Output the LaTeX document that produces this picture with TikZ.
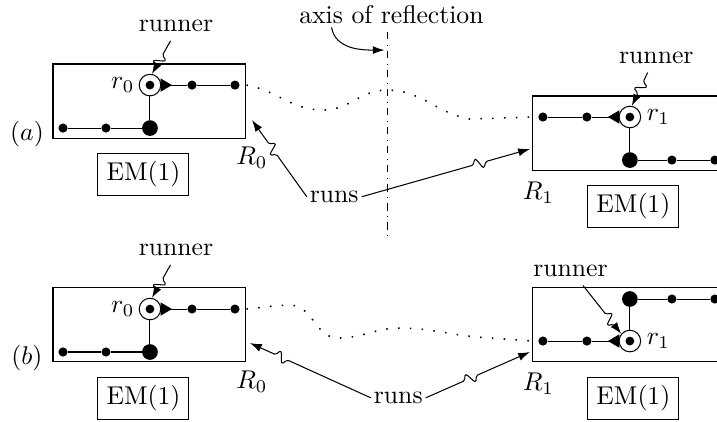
\documentclass[tikz,border=0pt]{standalone}
\usepackage{amsmath,amssymb}
\usepackage{tikz}
\usetikzlibrary{arrows.meta}
\usetikzlibrary{calc}
\tikzset{
	>={Latex[length=1.6mm, width=1.1mm]},
	region/.style={draw, minimum width=2.64cm, minimum height=1.013cm, inner sep=0pt},
	emtag/.style={draw, inner sep=3.33pt},
	vtx/.style={circle, fill=black, inner sep=0pt, minimum size=1.25mm},
	hubvtx/.style={circle, fill=black, inner sep=0pt, minimum size=2.15mm},
	runvtx/.style={circle, draw, fill=white, inner sep=0pt, minimum size=2.95mm,
		path picture={\fill[black] (path picture bounding box.center) circle (0.6mm);}},
	trail/.style={loosely dotted, line width=0.6pt},
	mirrorline/.style={dash dot},
	% straight connector with a small s-shaped kink at fraction #1
	squig/.style={to path={
			-- ($(\tikztostart)!#1!(\tikztotarget)!-3pt!(\tikztotarget)$)
			.. controls ($(\tikztostart)!#1!(\tikztotarget)!-1.5pt!(\tikztotarget)$)
			and ($(\tikztostart)!#1!(\tikztotarget)!-1.8pt!(\tikztotarget)!4.5pt!90:(\tikztotarget)$)
			.. ($(\tikztostart)!#1!(\tikztotarget)$)
			.. controls ($(\tikztostart)!#1!(\tikztotarget)!1.8pt!(\tikztotarget)!4.5pt!-90:(\tikztotarget)$)
			and ($(\tikztostart)!#1!(\tikztotarget)!1.5pt!(\tikztotarget)$)
			.. ($(\tikztostart)!#1!(\tikztotarget)!3pt!(\tikztotarget)$)
			-- (\tikztotarget) \tikztonodes}},
}

\begin{document}
\begin{tikzpicture}
	\useasboundingbox (0,0) rectangle (9.81,5.76);
	\clip (0,0) rectangle (9.81,5.76);
	
	% left halves: R_0 is the same in (a) and (b)
	\foreach \p/\dy in {a/0, b/-3.064}{
		\begin{scope}[yshift=\dy cm]
			\node[region] (R0\p) at (2.045,4.378) {};
			\node[runvtx, label={[inner sep=1.5pt]left:$r_0$}] (r0\p) at (2.052,4.596) {};
			\node[vtx] (p1\p) at (2.627,4.596) {};
			\node[vtx] (p2\p) at (3.215,4.596) {};
			\node[hubvtx] (h0\p) at (2.052,4.008) {};
			\node[vtx] (q1\p) at (1.450,4.008) {};
			\node[vtx] (q2\p) at (0.862,4.008) {};
			\draw (r0\p) -- (p1\p) -- (p2\p);
			\draw (r0\p) -- (h0\p) -- (q1\p) -- (q2\p);
			\fill (r0\p.east) ++(-0.01,0.092) -- ++(0.156,-0.092) -- ++(-0.156,-0.092) -- cycle;
			
			\node (tag\p) at (0.369,3.926) {$(\p)$};
			\node[emtag] (em0\p) at (1.963,3.372) {EM(1)};
			\node (lR0\p) at (3.447,3.598) {$R_0$};
			\node (run0\p) at (2.408,5.406) {runner};
			\draw[->] (run0\p.250) to[squig=0.6] (r0\p.80);
		\end{scope}
	}
	
	% (a) right half
	\node[region] (R1a) at (8.611,3.94) {};
	\node[runvtx, label={[inner sep=2pt]right:$r_1$}] (r1a) at (8.618,4.159) {};
	\node[vtx] (s1a) at (8.030,4.159) {};
	\node[vtx] (s2a) at (7.428,4.159) {};
	\node[hubvtx] (h1a) at (8.618,3.570) {};
	\node[vtx] (t1a) at (9.193,3.570) {};
	\node[vtx] (t2a) at (9.781,3.570) {};
	\draw (r1a) -- (s1a) -- (s2a);
	\draw (r1a) -- (h1a) -- (t1a) -- (t2a);
	\fill (r1a.west) ++(0.01,0.092) -- ++(-0.156,-0.092) -- ++(0.156,-0.092) -- cycle;
	\node[emtag] (em1a) at (8.666,2.934) {EM(1)};
	\node (lR1a) at (7.367,3.126) {$R_1$};
	\node (run1a) at (8.98,4.973) {runner};
	\draw[->] (run1a.240) to[squig=0.45] (r1a.80);
	
	% (b) right half, flipped
	\node[region] (R1b) at (8.611,1.314) {};
	\node[runvtx, label={[inner sep=2pt]right:$r_1$}] (r1b) at (8.618,1.094) {};
	\node[vtx] (s1b) at (8.030,1.094) {};
	\node[vtx] (s2b) at (7.428,1.094) {};
	\node[hubvtx] (h1b) at (8.618,1.669) {};
	\node[vtx] (t1b) at (9.193,1.669) {};
	\node[vtx] (t2b) at (9.781,1.669) {};
	\draw (r1b) -- (s1b) -- (s2b);
	\draw (r1b) -- (h1b) -- (t1b) -- (t2b);
	\fill (r1b.west) ++(0.01,0.092) -- ++(-0.156,-0.092) -- ++(0.156,-0.092) -- cycle;
	\node[emtag] (em1b) at (8.666,0.308) {EM(1)};
	\node (lR1b) at (7.367,0.513) {$R_1$};
	\node (run1b) at (7.805,2.059) {runner};
	\draw[->] (run1b.310) to[squig=0.7] (r1b.140);
	
	% axis of reflection
	\node[inner sep=1pt] (axlab) at (5.356,5.554) {axis of reflection};
	\coordinate (axtop) at (5.308,5.326);
	\coordinate (axbot) at (5.308,2.544);
	\coordinate (axhit) at (5.26,5.075);
	\draw[mirrorline] (axtop) -- (axbot);
	\draw[->] ([xshift=0.483cm]axlab.south west) to[out=-80,in=180] (axhit);
	
	% dotted trails between the regions
	\draw[trail] (R0a.east |- r0a) to[out=-10,in=180] (4.419,4.254)
		to[out=0,in=180] (5.294,4.528) to[out=0,in=170] (6.43,4.131) -- (R1a.west |- r1a);
	\draw[trail] (R0b.east |- r0b) to[out=5,in=180] (3.97,1.585)
		to[out=0,in=180] (4.624,1.135) to[out=0,in=180] (5.472,1.272)
		to[out=0,in=175] (6.525,1.149) -- (R1b.west |- r1b);
	
	% runs
	\node[inner sep=1pt] (runsa) at (4.573,3.068) {runs};
	\coordinate (hR0a) at (3.447,4.118);
	\coordinate (hR1a) at (7.25,3.721);
	\draw[->] (runsa.west) to[squig=0.62] (hR0a);
	\draw[->] (runsa.east) to[squig=0.70] (hR1a);
	
	\node[inner sep=1pt] (runsb) at (5.449,0.317) {runs};
	\coordinate (hR0b) at (3.42,1.067);
	\coordinate (hR1b) at (7.25,0.944);
	\draw[->] (runsb.west) to[squig=0.74] (hR0b);
	\draw[->] (runsb.east) to[squig=0.43] (hR1b);
\end{tikzpicture}
\end{document}
